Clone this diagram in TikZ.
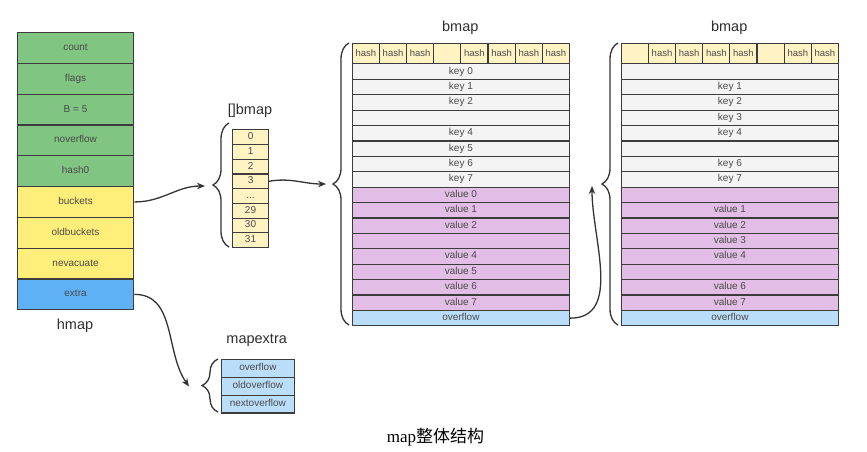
\documentclass[tikz,border=0pt]{standalone}
\usepackage{fontspec}
\setmainfont{Liberation Sans}
\newfontfamily\capfont{Liberation Serif}
\newfontfamily\cjk{Noto Sans CJK SC}
\usepackage{xcolor}
\usepackage{tikz}
\usetikzlibrary{arrows.meta,decorations.pathreplacing}
\definecolor{MapGreen}{HTML}{80C581}
\definecolor{MapYellow}{HTML}{FFEE7A}
\definecolor{MapBlue}{HTML}{5EB1F5}
\definecolor{MapHash}{HTML}{FFF3C4}
\definecolor{MapKey}{HTML}{F4F4F4}
\definecolor{MapValue}{HTML}{E2BDE5}
\definecolor{MapOver}{HTML}{BADEFA}
\definecolor{MapLine}{HTML}{3C3C3C}
\definecolor{MapText}{HTML}{4A4A4A}
\definecolor{MapTitle}{HTML}{2E2E2E}
\definecolor{MapArrow}{HTML}{333333}

\begin{document}
\begin{tikzpicture}[x=1pt,y=-1pt,
  cell/.style={draw=MapLine,line width=1.1pt,inner sep=0pt,anchor=north west,text=MapText,
    text height=7pt,text depth=2pt,font=\fontsize{10}{10}\selectfont},
  hmcell/.style={cell,minimum width=116.6pt,minimum height=30.8pt},
  arrcell/.style={cell,fill=MapHash,minimum width=35.4pt,minimum height=14.7pt},
  hashcell/.style={cell,fill=MapHash,minimum width=27.16pt,minimum height=20.6pt,font=\fontsize{9.5}{10}\selectfont},
  rowcell/.style={cell,minimum width=217.3pt,minimum height=15.41pt},
  keycell/.style={rowcell,fill=MapKey},
  valcell/.style={rowcell,fill=MapValue},
  ofcell/.style={rowcell,fill=MapOver},
  excell/.style={cell,fill=MapOver,minimum width=73.3pt,minimum height=17.8pt},
  title/.style={text=MapTitle,font=\fontsize{14.5}{16}\selectfont},
  link/.style={draw=MapArrow,line width=1.3pt,-{Stealth[length=8pt,width=6.5pt]}},
  curly/.style={draw=MapArrow,line width=1.3pt,decorate,decoration={brace,amplitude=16pt}}]
\path[use as bounding box] (0,0) rectangle (867,451);
% hmap
\node[hmcell,fill=MapGreen] (count) at (16.7,32) {count};
\node[hmcell,fill=MapGreen] (flags) at (16.7,62.8) {flags};
\node[hmcell,fill=MapGreen] (bsize) at (16.7,93.6) {B = 5};
\node[hmcell,fill=MapGreen] (noverflow) at (16.7,124.4) {noverflow};
\node[hmcell,fill=MapGreen] (hashzero) at (16.7,155.2) {hash0};
\node[hmcell,fill=MapYellow] (buckets) at (16.7,186) {buckets};
\node[hmcell,fill=MapYellow] (oldbuckets) at (16.7,216.8) {oldbuckets};
\node[hmcell,fill=MapYellow] (nevacuate) at (16.7,247.6) {nevacuate};
\node[hmcell,fill=MapBlue] (extra) at (16.7,278.4) {extra};
\node[title] (hmap) at (75,325.5) {hmap};
% []bmap
\node[title] (arrtitle) at (250,110.5) {[]bmap};
\node[arrcell] (arr0) at (232.3,129.3) {0};
\node[arrcell] (arr1) at (232.3,144) {1};
\node[arrcell] (arr2) at (232.3,158.7) {2};
\node[arrcell] (arr3) at (232.3,173.4) {3};
\node[arrcell] (arrdots) at (232.3,188.1) {...};
\node[arrcell] (arr29) at (232.3,202.8) {29};
\node[arrcell] (arr30) at (232.3,217.5) {30};
\node[arrcell] (arr31) at (232.3,232.2) {31};
\draw[curly] (229,247) -- (229,123);
\coordinate (arrin) at (205,186);
% first bmap
\node[title] (bmapone) at (460.3,27.5) {bmap};
\node[hashcell] (b1h0) at (351.7,42.7) {hash};
\node[hashcell] (b1h1) at (378.9,42.7) {hash};
\node[hashcell] (b1h2) at (406.0,42.7) {hash};
\node[hashcell] (b1h3) at (433.2,42.7) {};
\node[hashcell] (b1h4) at (460.3,42.7) {hash};
\node[hashcell] (b1h5) at (487.5,42.7) {hash};
\node[hashcell] (b1h6) at (514.7,42.7) {hash};
\node[hashcell] (b1h7) at (541.8,42.7) {hash};
\node[keycell] (b1k0) at (351.7,63.3) {key 0};
\node[keycell] (b1k1) at (351.7,78.7) {key 1};
\node[keycell] (b1k2) at (351.7,94.1) {key 2};
\node[keycell] (b1k3) at (351.7,109.5) {};
\node[keycell] (b1k4) at (351.7,124.9) {key 4};
\node[keycell] (b1k5) at (351.7,140.4) {key 5};
\node[keycell] (b1k6) at (351.7,155.8) {key 6};
\node[keycell] (b1k7) at (351.7,171.2) {key 7};
\node[valcell] (b1v0) at (351.7,186.6) {value 0};
\node[valcell] (b1v1) at (351.7,202.0) {value 1};
\node[valcell] (b1v2) at (351.7,217.4) {value 2};
\node[valcell] (b1v3) at (351.7,232.8) {};
\node[valcell] (b1v4) at (351.7,248.2) {value 4};
\node[valcell] (b1v5) at (351.7,263.6) {value 5};
\node[valcell] (b1v6) at (351.7,279.0) {value 6};
\node[valcell] (b1v7) at (351.7,294.5) {value 7};
\node[ofcell] (b1of) at (351.7,309.9) {overflow};
\draw[curly] (349,325) -- (349,43);
\coordinate (bmaponein) at (326,184);
% second bmap
\node[title] (bmaptwo) at (729.2,27.5) {bmap};
\node[hashcell] (b2h0) at (620.7,42.7) {};
\node[hashcell] (b2h1) at (647.9,42.7) {hash};
\node[hashcell] (b2h2) at (675.0,42.7) {hash};
\node[hashcell] (b2h3) at (702.2,42.7) {hash};
\node[hashcell] (b2h4) at (729.3,42.7) {hash};
\node[hashcell] (b2h5) at (756.5,42.7) {};
\node[hashcell] (b2h6) at (783.7,42.7) {hash};
\node[hashcell] (b2h7) at (810.8,42.7) {hash};
\node[keycell] (b2k0) at (620.7,63.3) {};
\node[keycell] (b2k1) at (620.7,78.7) {key 1};
\node[keycell] (b2k2) at (620.7,94.1) {key 2};
\node[keycell] (b2k3) at (620.7,109.5) {key 3};
\node[keycell] (b2k4) at (620.7,124.9) {key 4};
\node[keycell] (b2k5) at (620.7,140.4) {};
\node[keycell] (b2k6) at (620.7,155.8) {key 6};
\node[keycell] (b2k7) at (620.7,171.2) {key 7};
\node[valcell] (b2v0) at (620.7,186.6) {};
\node[valcell] (b2v1) at (620.7,202.0) {value 1};
\node[valcell] (b2v2) at (620.7,217.4) {value 2};
\node[valcell] (b2v3) at (620.7,232.8) {value 3};
\node[valcell] (b2v4) at (620.7,248.2) {value 4};
\node[valcell] (b2v5) at (620.7,263.6) {};
\node[valcell] (b2v6) at (620.7,279.0) {value 6};
\node[valcell] (b2v7) at (620.7,294.5) {value 7};
\node[ofcell] (b2of) at (620.7,309.9) {overflow};
\draw[curly] (618,325) -- (618,43);
\coordinate (bmaptwoin) at (592,186);
% mapextra
\node[title] (extitle) at (256.7,340.5) {mapextra};
\node[excell] (exof) at (220.7,359) {overflow};
\node[excell] (exold) at (220.7,376.8) {oldoverflow};
\node[excell] (exnext) at (220.7,394.6) {nextoverflow};
\draw[curly] (218,412) -- (218,359);
\coordinate (extrain) at (189,386.5);
% links
\draw[link] (buckets.east) to[out=0,in=180] (arrin);
\draw[link] (arr3.east) to[out=10,in=180] (bmaponein);
\draw[link] (b1of.east) to[out=0,in=-90] (bmaptwoin);
\draw[link] (extra.east) to[out=0,in=125] (extrain);
\node[font=\fontsize{17}{20}\selectfont,text=black] (caption) at (435.5,437) {\capfont map\cjk 整体结构};
\end{tikzpicture}
\end{document}
